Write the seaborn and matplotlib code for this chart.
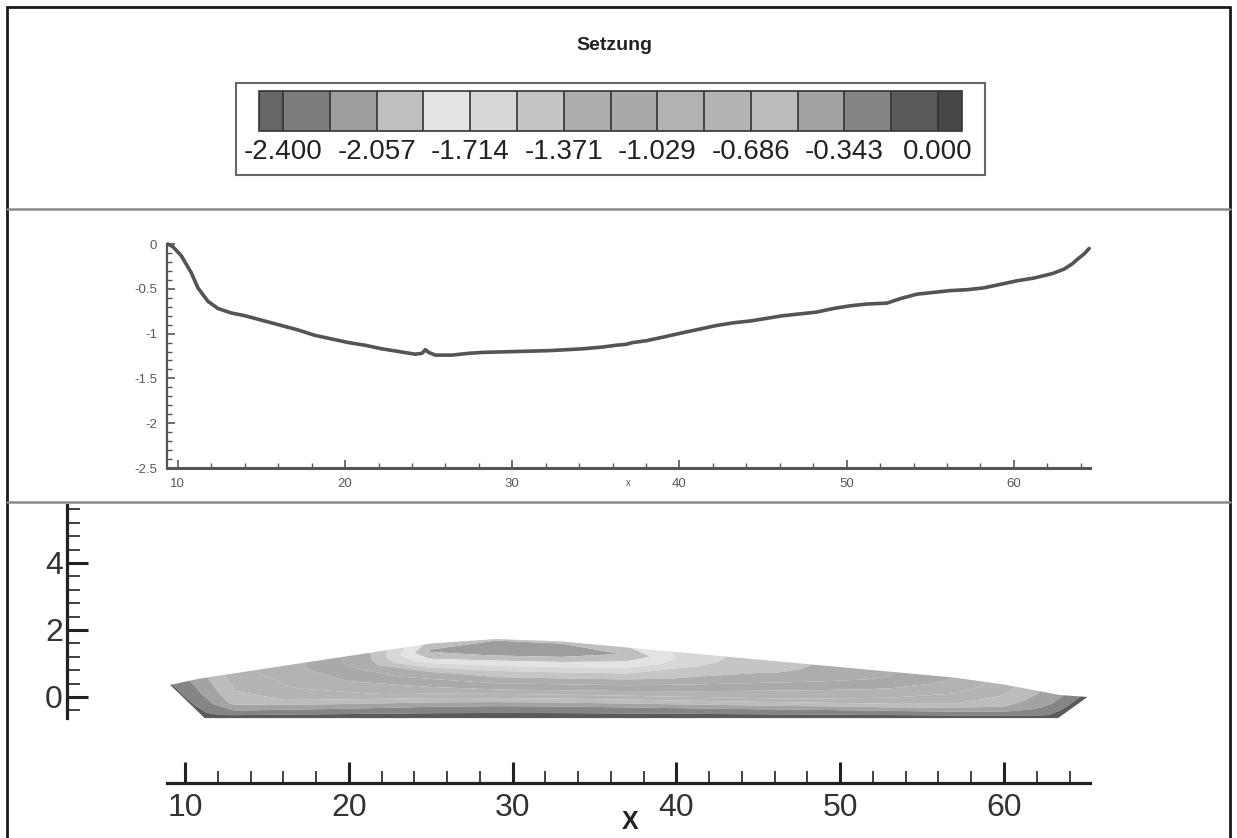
import numpy as np
import pandas as pd
import matplotlib
matplotlib.use("Agg")
import matplotlib.pyplot as plt
import seaborn as sns
from matplotlib.colors import ListedColormap, BoundaryNorm
from matplotlib.ticker import FixedLocator, NullLocator
from matplotlib.lines import Line2D
from matplotlib.patches import Rectangle

# ---------------------------------------------------------------- data
# settlement along the profile line (middle panel)
profile_x = [9.4, 9.7, 10.2, 10.8, 11.2, 11.8, 12.4, 13.2, 14.0, 15.0, 16.2, 17.2,
             18.2, 19.2, 20.2, 21.2, 22.2, 23.2, 24.2, 24.6, 24.8, 25.0, 25.4, 26.4,
             27.4, 28.2, 30.2, 32.2, 34.2, 35.4, 36.2, 36.8, 37.2, 38.0, 39.0, 40.2,
             41.2, 42.2, 43.2, 44.2, 45.2, 46.2, 47.2, 48.2, 49.2, 50.2, 51.2, 52.4,
             53.2, 54.2, 55.2, 56.2, 57.2, 58.2, 59.2, 60.2, 61.2, 62.3, 63.0, 63.5,
             63.8, 64.2, 64.5]
profile_s = [0.0, -0.03, -0.13, -0.32, -0.49, -0.64, -0.72, -0.77, -0.80, -0.85, -0.91, -0.96,
             -1.02, -1.06, -1.10, -1.13, -1.17, -1.20, -1.23, -1.22, -1.18, -1.21, -1.24, -1.24,
             -1.22, -1.21, -1.20, -1.19, -1.17, -1.15, -1.13, -1.12, -1.10, -1.08, -1.04, -0.99,
             -0.95, -0.91, -0.88, -0.86, -0.83, -0.80, -0.78, -0.76, -0.72, -0.69, -0.67, -0.66,
             -0.61, -0.56, -0.54, -0.52, -0.51, -0.49, -0.45, -0.41, -0.38, -0.33, -0.28, -0.22,
             -0.17, -0.11, -0.05]

# contour levels of the legend and their grey shades
level_values = [-2.4, -2.229, -2.057, -1.886, -1.714, -1.543, -1.371, -1.2,
                -1.029, -0.857, -0.686, -0.514, -0.343, -0.171, 0.0]
level_labels = ["-2.400", "-2.057", "-1.714", "-1.371", "-1.029", "-0.686", "-0.343", "0.000"]
band_greys = ["#7c7c7c", "#9d9d9d", "#bfbfbf", "#e3e3e3", "#d7d7d7", "#c5c5c5", "#adadad",
              "#a9a9a9", "#b2b2b2", "#b4b4b4", "#bcbcbc", "#a3a3a3", "#858585", "#5a5a5a"]
under_grey = "#666666"
over_grey = "#474747"

# embankment outline: crest line and base level
crest_x = [9.1, 10.9, 25.6, 30.5, 58.5, 63.4, 65.1]
crest_y = [0.36, 0.55, 1.64, 1.77, 0.51, 0.06, 0.0]
base_y = -0.63

# section columns (crest point / base point) and relative heights of the rows
col_top_x = [9.1, 10.9, 13, 17, 21, 25, 29, 33, 37, 41, 45, 49, 53, 57, 60, 63.4, 65.1]
col_base_x = [11.2, 12.2, 13, 17, 21, 25, 29, 33, 37, 41, 45, 49, 53, 57, 60, 62.4, 63.3]
row_eta = [0.0, 0.06, 0.15, 0.35, 0.6, 0.8, 0.9, 1.0]

# settlement in the embankment, one row per relative height (base -> crest)
settle_rows = [
    [-0.08, -0.04, -0.03, -0.03, -0.03, -0.03, -0.03, -0.03, -0.03, -0.03, -0.03, -0.03, -0.03, -0.03, -0.03, -0.05, -0.08],
    [-0.10, -0.15, -0.16, -0.16, -0.16, -0.16, -0.16, -0.16, -0.16, -0.16, -0.16, -0.16, -0.16, -0.16, -0.16, -0.13, -0.10],
    [-0.12, -0.25, -0.32, -0.33, -0.34, -0.34, -0.34, -0.34, -0.34, -0.34, -0.34, -0.33, -0.33, -0.33, -0.30, -0.19, -0.10],
    [-0.14, -0.34, -0.58, -0.72, -0.82, -0.92, -1.00, -1.00, -0.96, -0.92, -0.88, -0.83, -0.78, -0.68, -0.52, -0.27, -0.10],
    [-0.15, -0.40, -0.68, -0.90, -1.08, -1.32, -1.55, -1.55, -1.48, -1.33, -1.20, -1.10, -1.00, -0.85, -0.65, -0.33, -0.10],
    [-0.15, -0.42, -0.73, -0.95, -1.25, -1.90, -2.08, -2.06, -1.88, -1.55, -1.40, -1.30, -1.15, -0.95, -0.72, -0.35, -0.10],
    [-0.15, -0.43, -0.76, -1.00, -1.30, -2.08, -2.17, -2.15, -2.045, -1.60, -1.45, -1.33, -1.20, -1.00, -0.75, -0.37, -0.10],
    [-0.15, -0.44, -0.78, -1.00, -1.32, -1.96, -2.03, -2.02, -1.90, -1.62, -1.47, -1.35, -1.22, -1.02, -0.76, -0.38, -0.10],
]

# ---------------------------------------------------------------- style
sns.set_theme(style="white")
plt.rcParams["font.family"] = ["Liberation Sans", "DejaVu Sans"]
plt.rcParams["axes.unicode_minus"] = False

W, H = 1237, 838
fig = plt.figure(figsize=(W / 100, H / 100), dpi=100)
fig.patch.set_facecolor("white")


def fx(px):
    return px / W


def fy(py):
    return 1 - py / H


def box(left, top, right, bottom):
    return [fx(left), fy(bottom), fx(right) - fx(left), fy(top) - fy(bottom)]


# ---------------------------------------------------------------- frame
frame_kw = dict(transform=fig.transFigure, color="#1a1a1a", lw=2.0)
fig.add_artist(Line2D([fx(7), fx(7)], [fy(7), fy(H + 5)], **frame_kw))
fig.add_artist(Line2D([fx(7), fx(1230)], [fy(7), fy(7)], **frame_kw))
fig.add_artist(Line2D([fx(1230), fx(1230)], [fy(7), fy(H + 5)], **frame_kw))
sep_kw = dict(transform=fig.transFigure, color="#8a8a8a", lw=1.8)
fig.add_artist(Line2D([fx(7), fx(1230)], [fy(209), fy(209)], **sep_kw))
fig.add_artist(Line2D([fx(7), fx(1230)], [fy(502), fy(502)], **sep_kw))

# ---------------------------------------------------------------- contour panel
cmap = ListedColormap(band_greys)
cmap.set_under(under_grey)
cmap.set_over(over_grey)
norm = BoundaryNorm(level_values, cmap.N)

ax_bot = fig.add_axes(box(67, 505, 1090, 783))
ax_bot.set_facecolor("none")

top_x = np.array(col_top_x)
base_x = np.array(col_base_x)
top_y = np.interp(top_x, crest_x, crest_y)
eta = np.array(row_eta)[:, None]
grid_x = base_x[None, :] + eta * (top_x - base_x)[None, :]
grid_y = base_y + eta * (top_y - base_y)[None, :]
grid_s = np.array(settle_rows)

cs = ax_bot.contourf(grid_x, grid_y, grid_s, levels=level_values, cmap=cmap,
                     norm=norm, extend="both", antialiased=True)

ax_bot.set_xlim(2.796, 65.25)
ax_bot.set_ylim(-2.567, 5.73)
for side in ("top", "right"):
    ax_bot.spines[side].set_visible(False)
ax_bot.spines["left"].set_bounds(-0.63, 5.73)
ax_bot.spines["bottom"].set_bounds(8.9, 65.25)
for side in ("left", "bottom"):
    ax_bot.spines[side].set_color("#222222")
    ax_bot.spines[side].set_linewidth(2.3)

ax_bot.xaxis.set_major_locator(FixedLocator([10, 20, 30, 40, 50, 60]))
ax_bot.xaxis.set_minor_locator(FixedLocator(list(range(12, 65, 2))))
ax_bot.yaxis.set_major_locator(FixedLocator([0, 2, 4]))
ax_bot.yaxis.set_minor_locator(FixedLocator([round(v * 0.4, 1) for v in range(-1, 15)]))
ax_bot.tick_params(which="major", direction="in", length=15, width=2.2,
                   color="#222222", labelsize=23, labelcolor="#333333")
ax_bot.tick_params(which="minor", direction="in", length=9, width=1.3, color="#333333")
ax_bot.tick_params(axis="x", which="major", pad=7)
ax_bot.tick_params(axis="y", which="major", pad=3)
ax_bot.tick_params(axis="x", which="both", bottom=True)
ax_bot.tick_params(axis="y", which="both", left=True)
fig.text(fx(630), fy(829), "X", ha="center", va="baseline", fontsize=18,
         fontweight="bold", color="#222222")

# ---------------------------------------------------------------- profile panel
ax_mid = fig.add_axes(box(167, 244, 1090, 468))
ax_mid.set_facecolor("none")
profile = pd.DataFrame({"x": profile_x, "Setzung": profile_s})
sns.lineplot(data=profile, x="x", y="Setzung", ax=ax_mid, color="#545454",
             lw=2.6, sort=False, estimator=None, clip_on=False)
ax_mid.set_xlim(9.35, 64.55)
ax_mid.set_ylim(-2.5, 0)
ax_mid.set_xlabel("")
ax_mid.set_ylabel("")
for side in ("top", "right"):
    ax_mid.spines[side].set_visible(False)
ax_mid.spines["left"].set_color("#555555")
ax_mid.spines["left"].set_linewidth(1.6)
ax_mid.spines["bottom"].set_color("#555555")
ax_mid.spines["bottom"].set_linewidth(2.2)
ax_mid.xaxis.set_major_locator(FixedLocator([10, 20, 30, 40, 50, 60]))
ax_mid.xaxis.set_minor_locator(FixedLocator(list(range(12, 65, 2))))
ax_mid.yaxis.set_major_locator(FixedLocator([0, -0.5, -1, -1.5, -2, -2.5]))
ax_mid.yaxis.set_minor_locator(FixedLocator([round(-0.1 * k, 1) for k in range(26)]))
ax_mid.set_yticklabels(["0", "-0.5", "-1", "-1.5", "-2", "-2.5"])
ax_mid.tick_params(which="major", direction="in", length=6, width=1.2,
                   color="#555555", labelsize=9.5, labelcolor="#5a5a5a")
ax_mid.tick_params(which="minor", direction="in", length=3.5, width=1.0, color="#555555")
ax_mid.tick_params(axis="x", which="major", pad=7)
ax_mid.tick_params(axis="y", which="major", pad=7)
ax_mid.tick_params(axis="x", which="both", bottom=True)
ax_mid.tick_params(axis="y", which="both", left=True)
ax_mid.text(0.5, -0.068, "x", transform=ax_mid.transAxes, ha="center", va="center",
            fontsize=7, color="#555555")

# ---------------------------------------------------------------- legend panel
fig.text(fx(614), fy(45), "Setzung", ha="center", va="center", fontsize=14,
         fontweight="bold", color="#222222")
fig.add_artist(Rectangle((fx(236), fy(175)), fx(985) - fx(236), fy(83) - fy(175),
                         transform=fig.transFigure, fill=False, ec="#666666", lw=1.5))
cax = fig.add_axes(box(259, 91, 962, 131))
cbar = fig.colorbar(cs, cax=cax, orientation="horizontal", extendrect=True,
                    extendfrac=0.037, drawedges=True)
cbar.set_ticks(level_values[::2], labels=level_labels)
cax.xaxis.set_minor_locator(NullLocator())
cbar.outline.set_edgecolor("#333333")
cbar.outline.set_linewidth(1.2)
cbar.dividers.set_color("#333333")
cbar.dividers.set_linewidth(1.2)
cax.tick_params(which="both", length=0, pad=6, labelsize=20, labelcolor="#222222")

fig.savefig("out.png", dpi=100, facecolor="white")
